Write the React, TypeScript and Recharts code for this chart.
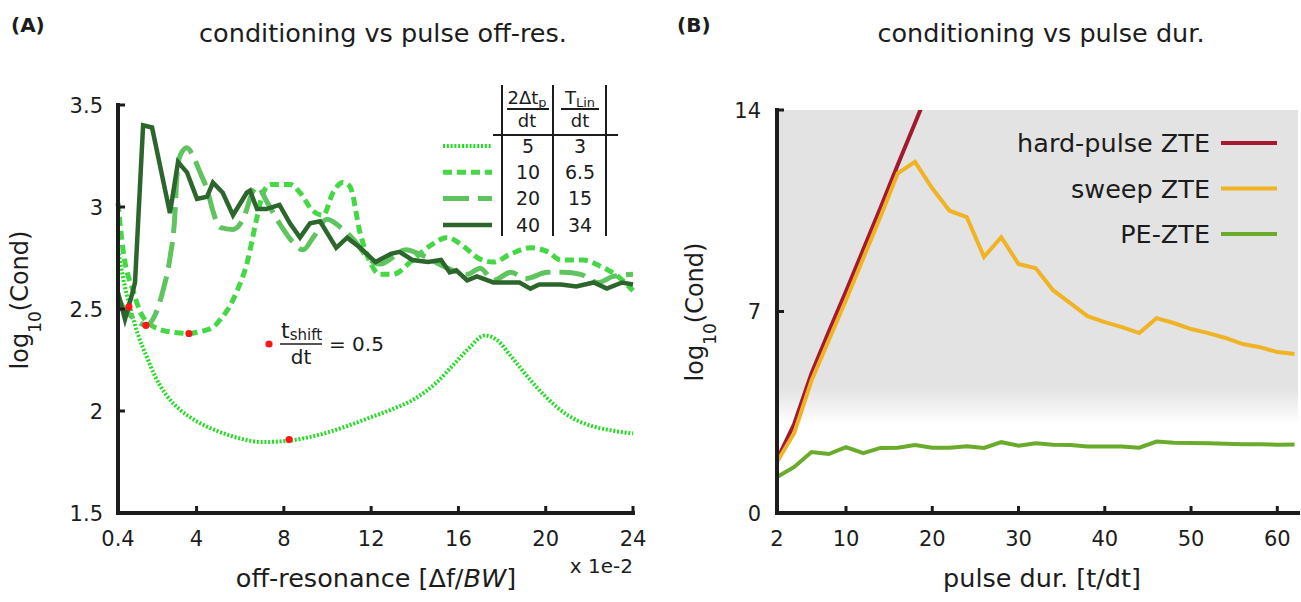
import {
  ComposedChart,
  LineChart,
  Line,
  Scatter,
  XAxis,
  YAxis,
  ReferenceArea,
} from 'recharts'

const FONT = '"DejaVu Sans", Verdana, sans-serif'
const INK = '#1c1c1c'

// Panel A: conditioning vs off-resonance (x in units of 1e-2)
const TP5_X = [0.4, 0.6, 0.8, 1.0, 1.3, 1.7, 2.1, 2.6, 3.2, 4, 5, 6, 7, 8, 9, 10, 11, 12, 13, 14, 15, 15.8, 16.5, 17.2, 17.8, 18.4, 19, 20, 21, 22, 23, 24]
const TP5_Y = [2.79, 2.67, 2.57, 2.49, 2.38, 2.27, 2.17, 2.08, 2.01, 1.95, 1.9, 1.865, 1.848, 1.852, 1.868, 1.895, 1.93, 1.97, 2.01, 2.06, 2.14, 2.23, 2.31, 2.37, 2.345, 2.27, 2.19, 2.07, 1.98, 1.93, 1.905, 1.89]

const TP10_X = [0.4, 0.63, 1.09, 1.55, 2.3, 3.0, 3.65, 4.2, 4.75, 5.1, 5.5, 5.9, 6.3, 6.77, 7.05, 7.4, 7.8, 8.3, 8.74, 9.34, 9.8, 10.25, 10.7, 11.03, 11.5, 11.95, 12.4, 13, 13.9, 14.7, 15.5, 16.2, 16.9, 17.6, 18.4, 19.3, 20.1, 20.7, 21.7, 22.5, 23.3, 24]
const TP10_Y = [3.02, 2.79, 2.59, 2.46, 2.4, 2.385, 2.38, 2.39, 2.41, 2.45, 2.51, 2.6, 2.72, 2.95, 3.07, 3.11, 3.11, 3.11, 3.07, 2.98, 2.96, 3.07, 3.12, 3.1, 2.87, 2.73, 2.67, 2.67, 2.74, 2.81, 2.85, 2.81, 2.75, 2.73, 2.77, 2.8, 2.78, 2.74, 2.74, 2.71, 2.66, 2.59]

const TP20_X = [0.4, 0.63, 1.18, 1.68, 2.0, 2.46, 2.78, 3.0, 3.1, 3.24, 3.56, 3.84, 4.16, 4.5, 4.75, 5.07, 5.67, 6.13, 6.6, 6.8, 7.2, 7.8, 8.4, 8.88, 9.34, 9.98, 10.6, 11.2, 11.95, 12.4, 13.6, 14.2, 15.5, 16.4, 17.0, 17.6, 18.4, 19.1, 20.1, 20.8, 21.6, 22.4, 23.1, 24]
const TP20_Y = [2.56, 2.51, 2.45, 2.42, 2.45, 2.59, 2.75, 2.95, 3.15, 3.25, 3.29, 3.25, 3.17, 3.08, 2.98, 2.9, 2.89, 2.94, 3.08, 3.1, 3.03, 2.92, 2.83, 2.79, 2.85, 2.94, 2.9, 2.84, 2.74, 2.72, 2.79, 2.77, 2.7, 2.67, 2.7, 2.64, 2.68, 2.65, 2.68, 2.68, 2.67, 2.63, 2.66, 2.67]

const TP40_X = [0.4, 0.72, 1.09, 1.18, 1.55, 1.96, 2.78, 3.15, 3.56, 4.02, 4.48, 4.75, 5.2, 5.67, 6.3, 6.45, 6.77, 7.2, 7.8, 8.28, 8.74, 9.2, 9.66, 10.4, 10.9, 11.5, 12.2, 12.9, 13.3, 13.9, 14.6, 15.2, 15.6, 15.9, 16.4, 16.85, 17.6, 18.8, 19.3, 19.7, 20.7, 21.4, 22.2, 22.8, 23.5, 24]
const TP40_Y = [2.58, 2.45, 2.59, 2.63, 3.4, 3.39, 2.97, 3.22, 3.17, 3.04, 3.05, 3.12, 3.07, 2.96, 3.07, 3.08, 2.99, 2.99, 3.01, 2.92, 2.85, 2.92, 2.93, 2.8, 2.85, 2.8, 2.73, 2.77, 2.78, 2.74, 2.73, 2.74, 2.68, 2.69, 2.64, 2.66, 2.63, 2.63, 2.6, 2.62, 2.62, 2.61, 2.63, 2.6, 2.63, 2.62]

// red markers at t_shift/dt = 0.5
const SHIFT_X = [0.9, 1.68, 3.65, 8.24]
const SHIFT_Y = [2.51, 2.42, 2.38, 1.86]

const A_X_TICKS = [0.4, 4, 8, 12, 16, 20, 24]
const A_Y_TICKS = [1.5, 2, 2.5, 3, 3.5]

// Panel B: conditioning vs pulse duration
const DUR = [2, 4, 6, 8, 10, 12, 14, 16, 18, 20, 22, 24, 26, 28, 30, 32, 34, 36, 38, 40, 42, 44, 46, 48, 50, 52, 54, 56, 58, 60, 62]
const HARD_PULSE = [1.85, 3.1, 4.85, 6.3, 7.7, 9.15, 10.6, 12.1, 13.55, 15.0]
const SWEEP = [1.77, 2.78, 4.6, 6.0, 7.4, 8.85, 10.3, 11.8, 12.2, 11.28, 10.5, 10.28, 8.9, 9.58, 8.65, 8.5, 7.74, 7.29, 6.84, 6.63, 6.46, 6.25, 6.77, 6.6, 6.39, 6.25, 6.08, 5.87, 5.76, 5.59, 5.52]
const PE_ZTE = [1.25, 1.6, 2.12, 2.05, 2.29, 2.08, 2.26, 2.27, 2.36, 2.27, 2.27, 2.32, 2.26, 2.46, 2.34, 2.42, 2.37, 2.36, 2.31, 2.31, 2.31, 2.27, 2.48, 2.44, 2.43, 2.42, 2.41, 2.39, 2.39, 2.37, 2.38]

const B_X_TICKS = [2, 10, 20, 30, 40, 50, 60]
const B_Y_TICKS = [0, 7, 14]

const SERIES_A = [
  { key: 'tp5', xs: TP5_X, ys: TP5_Y, color: '#22dd22', width: 4, dash: '2 1.8', type: 'monotone' },
  { key: 'tp10', xs: TP10_X, ys: TP10_Y, color: '#44d844', width: 5, dash: '9 5', type: 'monotone' },
  { key: 'tp20', xs: TP20_X, ys: TP20_Y, color: '#5fc35f', width: 5, dash: '26 9', type: 'monotone' },
  { key: 'tp40', xs: TP40_X, ys: TP40_Y, color: '#2c662c', width: 4.5, dash: undefined, type: 'linear' },
] as const

const LEGEND_A = [
  { n: '5', t: '3', color: '#22dd22', width: 4, dash: '2 1.8' },
  { n: '10', t: '6.5', color: '#44d844', width: 5, dash: '9 5' },
  { n: '20', t: '15', color: '#5fc35f', width: 5, dash: '26 9' },
  { n: '40', t: '34', color: '#2c662c', width: 4.5, dash: undefined },
]

const LEGEND_B = [
  { name: 'hard-pulse ZTE', color: '#a5192f' },
  { name: 'sweep ZTE', color: '#f0b323' },
  { name: 'PE-ZTE', color: '#6aab2c' },
]

const zip = (xs: readonly number[], ys: readonly number[]) =>
  ys.map((y, i) => ({ x: xs[i], y }))

const fmt = (v: number) => String(v)

function LeftTick(props: any) {
  const { x, y, payload, gap } = props
  const ax = x + gap
  return (
    <g>
      <line x1={ax} x2={ax + 7} y1={y} y2={y} stroke={INK} strokeWidth={3} />
      <text x={x} y={y} dy="0.36em" textAnchor="end" fontSize={21} fontFamily={FONT} fill={INK}>
        {fmt(payload.value)}
      </text>
    </g>
  )
}

function BottomTick(props: any) {
  const { x, y, payload, gap } = props
  const ay = y - gap
  return (
    <g>
      <line x1={x} x2={x} y1={ay} y2={ay - 7} stroke={INK} strokeWidth={3} />
      <text x={x} y={y} dy="0.76em" textAnchor="middle" fontSize={21} fontFamily={FONT} fill={INK}>
        {fmt(payload.value)}
      </text>
    </g>
  )
}

const axisLine = { stroke: INK, strokeWidth: 4, strokeLinecap: 'square' as const }

function PanelA() {
  return (
    <ComposedChart width={660} height={602} margin={{ top: 105, right: 27, bottom: 59, left: 58 }}>
      <XAxis
        type="number"
        dataKey="x"
        domain={[0.4, 24]}
        ticks={A_X_TICKS}
        height={30}
        axisLine={axisLine}
        tickLine={false}
        tickSize={0}
        tickMargin={17}
        tick={(p: any) => <BottomTick {...p} gap={17} />}
      />
      <YAxis
        type="number"
        dataKey="y"
        domain={[1.5, 3.5]}
        ticks={A_Y_TICKS}
        width={60}
        axisLine={axisLine}
        tickLine={false}
        tickSize={0}
        tickMargin={15}
        tick={(p: any) => <LeftTick {...p} gap={15} />}
      />
      {SERIES_A.map((s) => (
        <Line
          key={s.key}
          data={zip(s.xs, s.ys)}
          dataKey="y"
          type={s.type}
          stroke={s.color}
          strokeWidth={s.width}
          strokeDasharray={s.dash}
          dot={false}
          activeDot={false}
          isAnimationActive={false}
        />
      ))}
      <Scatter
        data={zip(SHIFT_X, SHIFT_Y)}
        dataKey="y"
        isAnimationActive={false}
        shape={(p: any) => <circle cx={p.cx} cy={p.cy} r={3.6} fill="#ff1515" />}
      />
    </ComposedChart>
  )
}

function PanelB() {
  return (
    <LineChart width={621} height={602} margin={{ top: 110, right: 3, bottom: 59, left: 37 }}>
      <ReferenceArea x1={2} x2={62.4} y1={0} y2={14} fill="url(#fadeGray)" fillOpacity={1} stroke="none" />
      <XAxis
        type="number"
        dataKey="x"
        domain={[2, 62.4]}
        ticks={B_X_TICKS}
        height={30}
        axisLine={axisLine}
        tickLine={false}
        tickSize={0}
        tickMargin={17}
        tick={(p: any) => <BottomTick {...p} gap={17} />}
      />
      <YAxis
        type="number"
        dataKey="y"
        domain={[0, 14]}
        allowDataOverflow
        ticks={B_Y_TICKS}
        width={60}
        axisLine={axisLine}
        tickLine={false}
        tickSize={0}
        tickMargin={16}
        tick={(p: any) => <LeftTick {...p} gap={16} />}
      />
      <Line data={zip(DUR, HARD_PULSE)} dataKey="y" type="linear" stroke={LEGEND_B[0].color} strokeWidth={4} dot={false} activeDot={false} isAnimationActive={false} />
      <Line data={zip(DUR, SWEEP)} dataKey="y" type="linear" stroke={LEGEND_B[1].color} strokeWidth={4} dot={false} activeDot={false} isAnimationActive={false} />
      <Line data={zip(DUR, PE_ZTE)} dataKey="y" type="linear" stroke={LEGEND_B[2].color} strokeWidth={4} dot={false} activeDot={false} isAnimationActive={false} />
    </LineChart>
  )
}

function YLabel({ x, y }: { x: number; y: number }) {
  return (
    <text transform={`translate(${x},${y}) rotate(-90)`} textAnchor="middle" fontSize={24} fontFamily={FONT} fill={INK}>
      log
      <tspan fontSize={17} dy={13}>10</tspan>
      <tspan dy={-13}>(Cond)</tspan>
    </text>
  )
}

function Overlay() {
  const txt = { fontFamily: FONT, fill: INK }
  return (
    <svg width={1301} height={602} style={{ position: 'absolute', left: 0, top: 0, pointerEvents: 'none' }}>
      <defs>
        <linearGradient id="fadeGray" x1="0" y1="0" x2="0" y2="1">
          <stop offset="0" stopColor="#e3e3e3" />
          <stop offset="0.69" stopColor="#e3e3e3" />
          <stop offset="0.78" stopColor="#ffffff" />
          <stop offset="1" stopColor="#ffffff" />
        </linearGradient>
      </defs>

      {/* panel letters and titles */}
      <text x={11} y={32} fontSize={20} fontWeight="bold" {...txt}>(A)</text>
      <text x={677} y={32} fontSize={20} fontWeight="bold" {...txt}>(B)</text>
      <text x={383} y={42} fontSize={25.5} textAnchor="middle" {...txt}>conditioning vs pulse off-res.</text>
      <text x={1041} y={42} fontSize={25.5} textAnchor="middle" {...txt}>conditioning vs pulse dur.</text>

      {/* axis labels */}
      <YLabel x={28} y={300} />
      <YLabel x={703} y={312} />
      <text x={633} y={573} fontSize={20} textAnchor="end" {...txt}>x 1e-2</text>
      <text x={376} y={587} fontSize={25.5} textAnchor="middle" {...txt}>
        off-resonance [Δf/<tspan fontStyle="italic">BW</tspan>]
      </text>
      <text x={1042} y={587} fontSize={25.5} textAnchor="middle" {...txt}>pulse dur. [t/dt]</text>

      {/* panel A legend table */}
      <g stroke={INK} strokeWidth={2}>
        <line x1={502} x2={502} y1={85} y2={236} />
        <line x1={553} x2={553} y1={85} y2={236} />
        <line x1={606} x2={606} y1={85} y2={236} />
        <line x1={493} x2={618} y1={135} y2={135} />
        <line x1={507} x2={549} y1={109} y2={109} />
        <line x1={561} x2={599} y1={109} y2={109} />
      </g>
      <text x={527} y={104} fontSize={18} textAnchor="middle" {...txt}>
        2Δt<tspan fontSize={13} dy={3}>p</tspan>
      </text>
      <text x={527} y={127} fontSize={18} textAnchor="middle" {...txt}>dt</text>
      <text x={580} y={104} fontSize={18} textAnchor="middle" {...txt}>
        T<tspan fontSize={13} dy={3}>Lin</tspan>
      </text>
      <text x={580} y={127} fontSize={18} textAnchor="middle" {...txt}>dt</text>
      {LEGEND_A.map((r, i) => {
        const y = 146 + i * 26.3
        return (
          <g key={r.n}>
            <line x1={443} x2={492} y1={y} y2={y} stroke={r.color} strokeWidth={r.width} strokeDasharray={r.dash} />
            <text x={528} y={y} dy="0.36em" fontSize={19} textAnchor="middle" {...txt}>{r.n}</text>
            <text x={580} y={y} dy="0.36em" fontSize={19} textAnchor="middle" {...txt}>{r.t}</text>
          </g>
        )
      })}

      {/* t_shift annotation */}
      <circle cx={269} cy={344} r={3.6} fill="#ff1515" />
      <text x={281} y={338} fontSize={22} {...txt}>
        t<tspan fontSize={15} dy={2}>shift</tspan>
      </text>
      <line x1={280} x2={322} y1={344} y2={344} stroke={INK} strokeWidth={1.5} />
      <text x={301} y={364} fontSize={20} textAnchor="middle" {...txt}>dt</text>
      <text x={329} y={351} fontSize={20} {...txt}>= 0.5</text>

      {/* panel B legend */}
      {LEGEND_B.map((l, i) => {
        const y = 143 + i * 45.5
        return (
          <g key={l.name}>
            <text x={1210} y={y} dy="0.36em" fontSize={25.5} textAnchor="end" {...txt}>{l.name}</text>
            <line x1={1221} x2={1277} y1={y} y2={y} stroke={l.color} strokeWidth={4} />
          </g>
        )
      })}
    </svg>
  )
}

export default function App() {
  return (
    <div style={{ position: 'absolute', left: 0, top: 0, width: 1301, height: 602, background: '#fff', fontFamily: FONT }}>
      <div style={{ position: 'absolute', left: 0, top: 0 }}>
        <PanelA />
      </div>
      <div style={{ position: 'absolute', left: 680, top: 0 }}>
        <PanelB />
      </div>
      <Overlay />
    </div>
  )
}
